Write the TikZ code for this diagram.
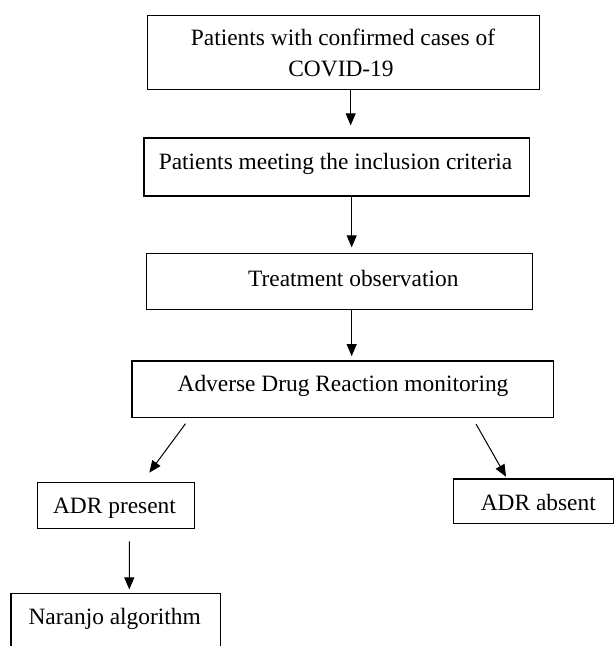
\documentclass[tikz,border=0pt]{standalone}
\usepackage{fontspec}
\setmainfont{Liberation Serif}
\usetikzlibrary{arrows.meta}
\begin{document}
\begin{tikzpicture}[x=1pt,y=-1pt,
  flowbox/.style={draw, line width=1.3pt, inner sep=0pt},
  txt/.style={font=\fontsize{23.4}{30}\selectfont, inner sep=0pt, anchor=base},
  arr/.style={line width=1pt, -{Triangle[length=12pt,width=10pt]}}]
\clip (0,0) rectangle (616,646);
\fill[white] (0,0) rectangle (616,646);
% boxes
\node[flowbox, minimum width=392pt, minimum height=74pt] (b1) at (343.3,52.3) {};
\node[flowbox, minimum width=385.3pt, minimum height=58pt] (b2) at (336.7,167) {};
\node[flowbox, minimum width=386pt, minimum height=56.2pt] (b3) at (339.7,281.4) {};
\node[flowbox, minimum width=421.3pt, minimum height=56.3pt] (b4) at (342.7,389.2) {};
\node[flowbox, minimum width=157pt, minimum height=46pt] (b5) at (115.8,505.3) {};
\node[flowbox, minimum width=160.4pt, minimum height=44.3pt] (b6) at (533.5,501.2) {};
\node[flowbox, minimum width=209.7pt, minimum height=71.7pt] (b7) at (115.9,629.2) {};
% texts
\node[txt] (t1a) at (343,45) {Patients with confirmed cases of};
\node[txt] (t1b) at (341,76) {COVID-19};
\node[txt] (t2) at (335.5,169.3) {Patients meeting the inclusion criteria};
\node[txt] (t3) at (353.3,286) {Treatment observation};
\node[txt] (t4) at (343,391.7) {Adverse Drug Reaction monitoring};
\node[txt] (t5) at (114.5,513.3) {ADR present};
\node[txt] (t6) at (538.3,510) {ADR absent};
\node[txt] (t7) at (114.7,624) {Naranjo algorithm};
% arrows
\draw[arr] ([xshift=7.4pt]b1.south) -- ([xshift=14pt,yshift=12pt]b2.north);
\draw[arr] ([xshift=15pt]b2.south) -- ([xshift=12pt,yshift=5.3pt]b3.north);
\draw[arr] ([xshift=12pt]b3.south) -- ([xshift=9pt,yshift=4.3pt]b4.north);
\draw[arr] ([xshift=-157.2pt,yshift=-5.7pt]b4.south) -- ([xshift=33.5pt,yshift=9pt]b5.north);
\draw[arr] ([xshift=133.3pt,yshift=-6pt]b4.south) -- ([xshift=-27.5pt,yshift=1.7pt]b6.north);
\draw[arr] ([xshift=13.5pt,yshift=-12.4pt]b5.south) -- ([xshift=13.4pt,yshift=3.3pt]b7.north);
\end{tikzpicture}
\end{document}
